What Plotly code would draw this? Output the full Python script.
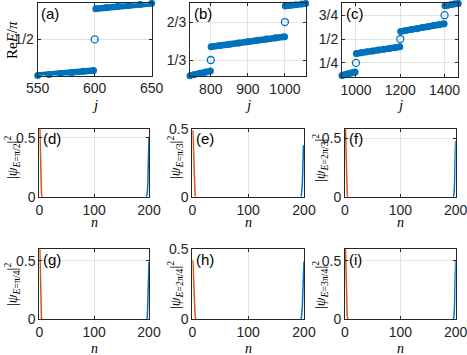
import plotly.graph_objects as go

W, H = 467, 355
BLUE = "#0072BD"
ORANGE = "#D95319"
AX = "#262626"
SANS = "Liberation Sans, Arial, sans-serif"
SERIF = "Liberation Serif, DejaVu Serif, serif"

# ---- top row: Re E / pi versus index j (bands + edge states) ----
a_band1_j = [550, 560, 570, 580, 590, 599]
a_band1_e = [0.300, 0.306, 0.311, 0.317, 0.323, 0.328]
a_band2_j = [601, 610, 620, 630, 640, 650]
a_band2_e = [0.670, 0.676, 0.682, 0.688, 0.694, 0.700]
a_edge_j = [600]
a_edge_e = [1 / 2]

b_band1_j = [744, 755, 770, 785, 799]
b_band1_e = [0.196, 0.204, 0.215, 0.226, 0.237]
b_band2_j = [801, 825, 850, 875, 900, 925, 950, 975, 999]
b_band2_e = [0.450, 0.460, 0.471, 0.482, 0.494, 0.506, 0.517, 0.528, 0.538]
b_band3_j = [1001, 1015, 1030, 1045, 1056]
b_band3_e = [0.807, 0.813, 0.819, 0.825, 0.830]
b_edge_j = [800, 1000]
b_edge_e = [1 / 3, 2 / 3]

c_band1_j = [937, 950, 965, 980, 996]
c_band1_e = [0.118, 0.126, 0.135, 0.145, 0.155]
c_band2_j = [1002, 1025, 1050, 1075, 1100, 1125, 1150, 1175, 1198]
c_band2_e = [0.349, 0.357, 0.366, 0.375, 0.384, 0.392, 0.401, 0.410, 0.418]
c_band3_j = [1202, 1225, 1250, 1275, 1300, 1325, 1350, 1375, 1398]
c_band3_e = [0.580, 0.589, 0.599, 0.609, 0.620, 0.630, 0.641, 0.651, 0.661]
c_band4_j = [1402, 1415, 1430, 1445, 1462]
c_band4_e = [0.848, 0.855, 0.862, 0.869, 0.874]
c_edge_j = [1000, 1200, 1400]
c_edge_e = [1 / 4, 1 / 2, 3 / 4]

# ---- middle/bottom rows: |psi|^2 of the edge states versus site n ----
n_left = [1, 2, 3, 4, 5, 6]
n_right = [195, 196, 197, 198, 199, 200]

d_left = [0.574, 0.32, 0.08, 0.02, 0.005, 0.0]
d_right = [0.0, 0.01, 0.04, 0.12, 0.33, 0.50]
e_left = [0.49, 0.32, 0.13, 0.04, 0.01, 0.0]
e_right = [0.0, 0.03, 0.09, 0.22, 0.38, 0.28]
f_left = [0.578, 0.35, 0.06, 0.015, 0.0, 0.0]
f_right = [0.0, 0.0, 0.03, 0.11, 0.36, 0.48]
g_left = [0.60, 0.37, 0.03, 0.0, 0.0, 0.0]
g_right = [0.0, 0.0, 0.02, 0.13, 0.35, 0.49]
h_left = [0.42, 0.30, 0.15, 0.08, 0.03, 0.0]
h_right = [0.0, 0.03, 0.08, 0.20, 0.30, 0.41]
i_left = [0.60, 0.36, 0.09, 0.02, 0.0, 0.0]
i_right = [0.0, 0.0, 0.03, 0.12, 0.35, 0.50]

psi_labels = ["π/2", "π/3", "2π/3", "π/4", "2π/4", "3π/4"]


def sx(px):
    return px / W


def sy(px):
    return 1 - px / H


fig = go.Figure()


def axes(k, box, xr, yr, xt, yt, ytext=None, xtext=None):
    x0, x1, y0, y1 = box
    common = dict(showline=True, mirror="ticks", linecolor=AX, linewidth=1,
                  ticks="inside", ticklen=3, tickwidth=1, tickcolor=AX,
                  showgrid=True, gridcolor="#E3E3E3", gridwidth=1,
                  zeroline=False, automargin=False, ticklabeloverflow="allow",
                  tickfont=dict(family=SANS, size=14, color=AX))
    s = "" if k == 1 else str(k)
    fig.layout["xaxis" + s] = dict(domain=[sx(x0), sx(x1)], range=xr,
                                   anchor="y" + s, tickvals=xt, ticktext=xtext,
                                   **common)
    fig.layout["yaxis" + s] = dict(domain=[sy(y1), sy(y0)], range=yr,
                                   anchor="x" + s, tickvals=yt, ticktext=ytext,
                                   **common)
    return "x" + s, "y" + s


def band(xa, ya, j, e):
    fig.add_trace(go.Scatter(x=j, y=e, xaxis=xa, yaxis=ya, mode="lines+markers",
                             line=dict(color=BLUE, width=6.5),
                             marker=dict(symbol="circle", size=7, color=BLUE),
                             cliponaxis=False, showlegend=False))


def edge(xa, ya, j, e):
    fig.add_trace(go.Scatter(x=j, y=e, xaxis=xa, yaxis=ya, mode="markers",
                             marker=dict(symbol="circle-open", size=7, color=BLUE,
                                         line=dict(width=1.3)),
                             cliponaxis=False, showlegend=False))


# top row boxes (left, right, top, bottom) in pixels
xa, ya = axes(1, (37.7, 151.7, 3.3, 75.5), [550, 650], [0.3, 0.7],
              [550, 600, 650], [0.5], ["1/2"])
band(xa, ya, a_band1_j, a_band1_e)
band(xa, ya, a_band2_j, a_band2_e)
edge(xa, ya, a_edge_j, a_edge_e)

xa, ya = axes(2, (190, 305.7, 3.3, 76), [744, 1056], [0.193, 0.831],
              [800, 900, 1000], [1 / 3, 2 / 3], ["1/3", "2/3"])
band(xa, ya, b_band1_j, b_band1_e)
band(xa, ya, b_band2_j, b_band2_e)
band(xa, ya, b_band3_j, b_band3_e)
edge(xa, ya, b_edge_j, b_edge_e)

xa, ya = axes(3, (342, 458.3, 3.3, 76.7), [937, 1462], [0.105, 0.875],
              [1000, 1200, 1400], [0.25, 0.5, 0.75], ["1/4", "1/2", "3/4"])
band(xa, ya, c_band1_j, c_band1_e)
band(xa, ya, c_band2_j, c_band2_e)
band(xa, ya, c_band3_j, c_band3_e)
band(xa, ya, c_band4_j, c_band4_e)
edge(xa, ya, c_edge_j, c_edge_e)

# wavefunction panels
cols = [(39.3, 149), (192.3, 304), (345, 455.7)]
rows = [(129, 196.7), (249, 319)]
ytops = [0.574, 0.5, 0.58, 0.603, 0.5, 0.603]
lefts = [d_left, e_left, f_left, g_left, h_left, i_left]
rights = [d_right, e_right, f_right, g_right, h_right, i_right]

for p in range(6):
    r, c = divmod(p, 3)
    box = (cols[c][0], cols[c][1], rows[r][0], rows[r][1])
    xa, ya = axes(4 + p, box, [0, 200], [0, ytops[p]], [0, 100, 200], [0, 0.5],
                  ["0", "0.5"], ["0", "100", "200"])
    fig.add_trace(go.Scatter(x=n_right, y=rights[p], xaxis=xa, yaxis=ya,
                             mode="lines", line=dict(color=BLUE, width=1.5),
                             showlegend=False))
    fig.add_trace(go.Scatter(x=n_left, y=lefts[p], xaxis=xa, yaxis=ya,
                             mode="lines", line=dict(color=ORANGE, width=1.5),
                             showlegend=False))

ann = []


def text(x, y, s, font, size=14, angle=0, xanchor="center"):
    ann.append(dict(x=sx(x), y=sy(y), xref="paper", yref="paper", text=s,
                    showarrow=False, textangle=angle, xanchor=xanchor,
                    yanchor="middle", font=dict(family=font, size=size, color="#000")))


# panel letters
letters = "abcdefghi"
tops = [(37.7, 3.3), (190, 3.3), (342, 3.3)] + \
       [(cols[c][0], rows[r][0]) for r in range(2) for c in range(3)]
for k, (lx, ty) in enumerate(tops):
    text(lx + 1.5, ty + 10, "(" + letters[k] + ")", SANS, 15, xanchor="left")

# x labels
for cx in [94.7, 247.9, 400.2]:
    text(cx, 105, "<i>j</i>", SERIF, 15)
for cx in [94.2, 248.2, 400.4]:
    text(cx, 222, "<i>n</i>", SERIF, 14)
    text(cx, 348.5, "<i>n</i>", SERIF, 14)

# y labels
text(12, 40, "Re<i>E</i>/<i>π</i>", SERIF, 15, angle=-90)
ylx = [12, 175, 320]
yly = [158, 285]
for p in range(6):
    r, c = divmod(p, 3)
    s = ("|<i>ψ</i><sub><i>E</i>=" + psi_labels[p] + "</sub>|<sup>2</sup>")
    text(ylx[c], yly[r], s, SERIF, 14, angle=-90)

fig.update_layout(width=W, height=H,
                  margin=dict(l=0, r=0, t=0, b=0, autoexpand=False),
                  paper_bgcolor="white", plot_bgcolor="white",
                  annotations=ann, showlegend=False)

# the page body has a default 8px margin; drop it so the figure fills the window
fig.write_html("out.html", config={"displayModeBar": False},
               post_script="document.body.style.margin='0';")
